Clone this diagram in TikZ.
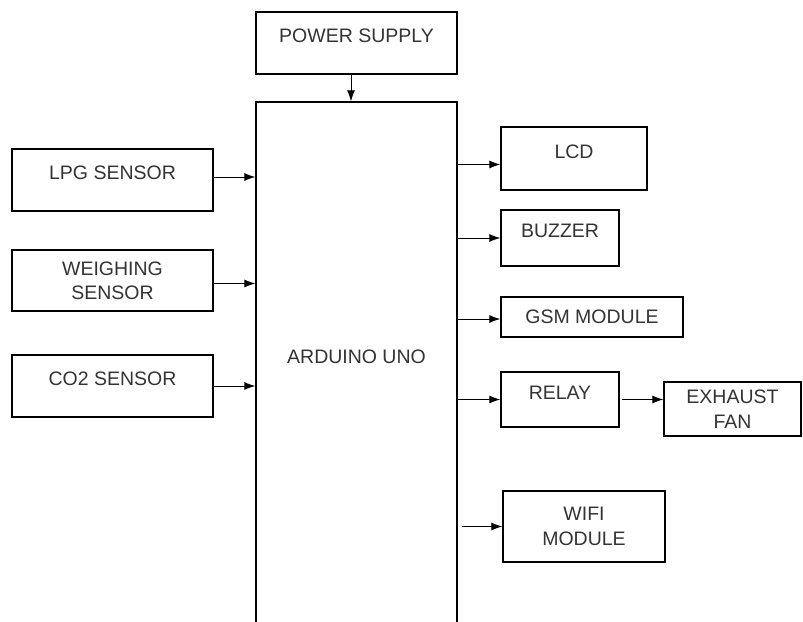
\documentclass[tikz,border=0pt]{standalone}
\usepackage{fontspec}
\setmainfont{Liberation Sans}
\usetikzlibrary{positioning,arrows.meta}

\begin{document}
\begin{tikzpicture}[x=1pt,y=-1pt,
  box/.style={rectangle,draw,line width=1.2pt,inner sep=0pt,align=center,
    font=\fontsize{19.5}{24.5}\selectfont,text=black!80,text depth=14pt},
  twobox/.style={box,text depth=0pt},
  arr/.style={-{Latex[length=11pt,width=8pt]},line width=1pt}
]
  \useasboundingbox (0,0) rectangle (803,621);
  \clip (0,0) rectangle (803,621);
  % controller and supply
  \node[box,minimum width=201pt,minimum height=62pt] (ps) at (356.5,43) {POWER SUPPLY};
  \node[box,minimum width=201pt,minimum height=524pt] (ard) at (356.5,364) {ARDUINO UNO};
  % inputs
  \node[box,minimum width=201pt,minimum height=62pt] (lpg) at (112.5,180) {LPG SENSOR};
  \node[twobox,minimum width=201pt,minimum height=61pt] (wgt) at (112.5,280.5) {WEIGHING\\SENSOR};
  \node[box,minimum width=201pt,minimum height=62pt] (co2) at (112.5,386) {CO2 SENSOR};
  % outputs
  \node[box,minimum width=146pt,minimum height=63pt] (lcd) at (574,158.5) {LCD};
  \node[box,minimum width=118pt,minimum height=56pt] (buz) at (560,238) {BUZZER};
  \node[twobox,minimum width=182pt,minimum height=40pt] (gsm) at (592,317) {GSM MODULE};
  \node[box,minimum width=118pt,minimum height=55pt] (relay) at (560,399.5) {RELAY};
  \node[twobox,minimum width=137pt,minimum height=54pt] (fan) at (732.5,409) {EXHAUST\\FAN};
  \node[twobox,minimum width=162pt,minimum height=71pt] (wifi) at (584,526.5) {WIFI\\MODULE};
  % connections
  \draw[arr] ([xshift=-5.5pt]ps.south) -- ([xshift=-5.5pt]ard.north);
  \draw[arr] ([yshift=3pt]lpg.east) -- ([yshift=3pt]lpg.east -| ard.west);
  \draw[arr] ([yshift=-3pt]wgt.east) -- ([yshift=-3pt]wgt.east -| ard.west);
  \draw[arr] (co2.east) -- (co2.east -| ard.west);
  \draw[arr] ([yshift=-6pt]lcd.west -| ard.east) -- ([yshift=-6pt]lcd.west);
  \draw[arr] (buz.west -| ard.east) -- (buz.west);
  \draw[arr] ([yshift=-2pt]gsm.west -| ard.east) -- ([yshift=-2pt]gsm.west);
  \draw[arr] (relay.west -| ard.east) -- (relay.west);
  \draw[arr] ([xshift=2pt]relay.east) -- (relay.east -| fan.west);
  \draw[arr] ([xshift=4pt]wifi.west -| ard.east) -- (wifi.west);
\end{tikzpicture}
\end{document}
